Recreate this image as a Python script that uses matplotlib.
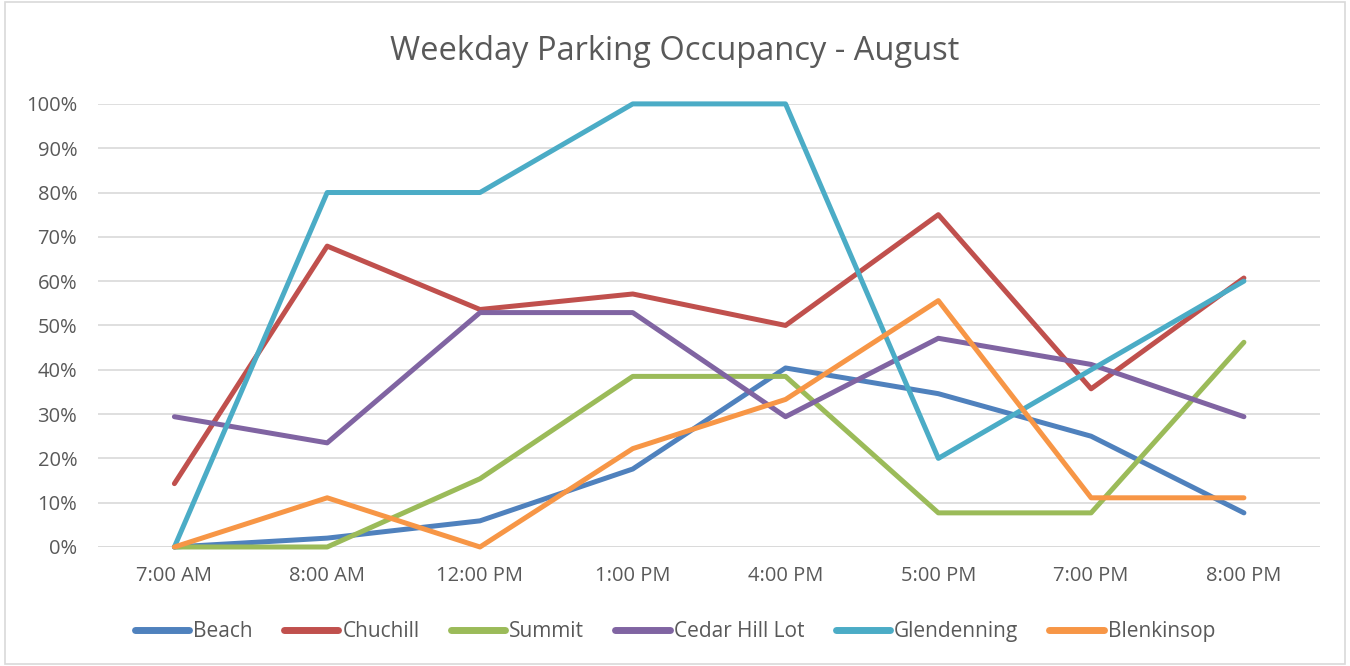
import numpy as np
from matplotlib import pyplot as plt
from matplotlib.patches import Rectangle

# time slots on the x axis
times = ["7:00 AM", "8:00 AM", "12:00 PM", "1:00 PM", "4:00 PM", "5:00 PM", "7:00 PM", "8:00 PM"]

# occupancy per lot, in percent
beach = [0, 2.0, 5.9, 17.6, 40.4, 34.6, 25.0, 7.7]
chuchill = [14.3, 67.9, 53.6, 57.1, 50.0, 75.0, 35.7, 60.7]
summit = [0, 0, 15.4, 38.5, 38.5, 7.7, 7.7, 46.2]
cedar_hill = [29.4, 23.5, 52.9, 52.9, 29.4, 47.1, 41.2, 29.4]
glendenning = [0, 80, 80, 100, 100, 20, 40, 60]
blenkinsop = [0, 11.1, 0, 22.2, 33.3, 55.6, 11.1, 11.1]

series = [("Beach", beach, "#4F81BD"),
          ("Chuchill", chuchill, "#C0504D"),
          ("Summit", summit, "#9BBB59"),
          ("Cedar Hill Lot", cedar_hill, "#8064A2"),
          ("Glendenning", glendenning, "#4BACC6"),
          ("Blenkinsop", blenkinsop, "#F79646")]

plt.rcParams['font.family'] = ['Open Sans', 'DejaVu Sans']
txt = "#595959"

fig = plt.figure(figsize=(13.5, 6.66), dpi=100)
ax = fig.add_axes([0.0726, 0.1787, 0.9054, 0.6653])

x = np.arange(len(times))
for name, vals, col in series:
    ax.plot(x, vals, color=col, lw=3.6, label=name, solid_joinstyle='round',
            solid_capstyle='round', clip_on=False)

ax.set_xlim(-0.5, len(times) - 0.5)
ax.set_ylim(0, 100)
ax.set_yticks(np.arange(0, 101, 10))
ax.set_yticklabels([f"{v}%" for v in range(0, 101, 10)])
ax.set_xticks(x)
ax.set_xticklabels(times)
ax.tick_params(axis='both', length=0, labelsize=14.5, colors=txt)
ax.tick_params(axis='x', pad=14)
ax.tick_params(axis='y', pad=15)
ax.grid(axis='y', color="#D9D9D9", lw=1.2)
ax.set_axisbelow(True)
for s in ax.spines.values():
    s.set_visible(False)
ax.axhline(0, color="#D9D9D9", lw=1.2, zorder=0.5)

fig.text(0.5, 0.922, "Weekday Parking Occupancy - August", ha='center', va='center',
         fontsize=23.5, color=txt)

leg = fig.legend(loc='center', bbox_to_anchor=(0.5, 0.052), ncol=6, frameon=False,
                 fontsize=15, handlelength=2.6, columnspacing=1.5, handletextpad=0.2)
for t in leg.get_texts():
    t.set_color(txt)
for h in leg.get_lines():
    h.set_linewidth(5)

fig.patches.append(Rectangle((0.004, 0.003), 0.992, 0.994, transform=fig.transFigure,
                             fill=False, edgecolor="#D9D9D9", lw=1.2))

fig.savefig("out.png", dpi=100)
